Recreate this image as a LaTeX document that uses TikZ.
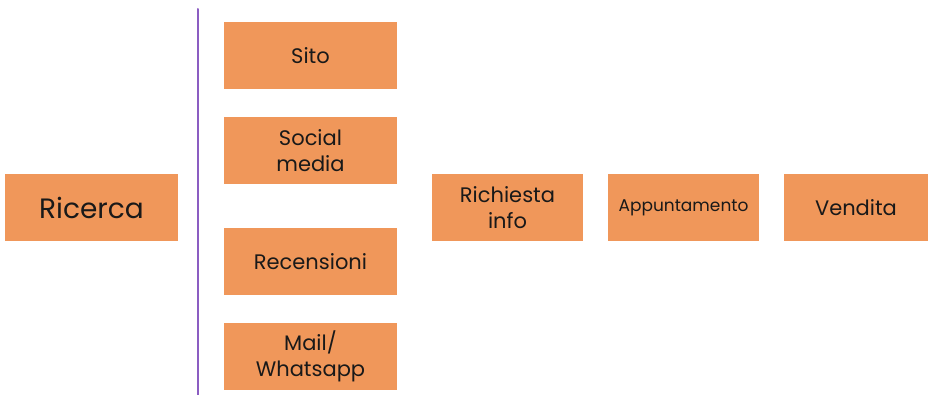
\documentclass[tikz,border=0pt]{standalone}
\usepackage{fontspec}
\setmainfont{Poppins}
\definecolor{boxorange}{HTML}{F0975A}
\definecolor{linepurple}{HTML}{8B5DC2}
\begin{document}
\begin{tikzpicture}[x=1pt,y=-1pt,line join=round,line cap=round,
  every node/.style={font=\fontsize{21}{26}\selectfont},
  blok/.style={fill=boxorange,text=black!90,inner sep=0pt,align=center,
    minimum width=173pt,minimum height=67pt},
  passo/.style={blok,minimum width=151pt}]
\useasboundingbox (0,0) rectangle (928,395);
% canali a destra della linea
\draw[linepurple,line width=2pt] (198,9) coordinate (top) -- (198,395) coordinate (bottom);
\node[blok,font=\fontsize{28}{32}\selectfont] (ricerca) at (91.5,207.5) {Ricerca};
\node[blok] (sito) at (310.5,55.5) {Sito};
\node[blok] (social) at (310.5,150.5) {Social\\media};
\node[blok] (recensioni) at (310.5,261.5) {Recensioni};
\node[blok] (mail) at (310.5,356.5) {Mail/\\Whatsapp};
% fasi successive
\node[passo] (richiesta) at (507.5,207.5) {Richiesta\\info};
\node[passo,font=\fontsize{17}{20}\selectfont] (appuntamento) at (683.5,207.5) {Appuntamento};
\node[passo,minimum width=144pt] (vendita) at (856,207.5) {Vendita};
\end{tikzpicture}
\end{document}
